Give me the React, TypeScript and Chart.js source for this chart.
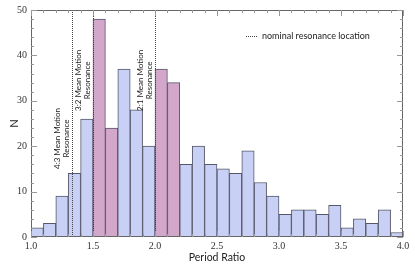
import React, { useEffect, useRef } from "react";
import { Chart, registerables } from "chart.js";

Chart.register(...registerables);

const binStarts = [1.0, 1.1, 1.2, 1.3, 1.4, 1.5, 1.6, 1.7, 1.8, 1.9, 2.0, 2.1, 2.2, 2.3, 2.4, 2.5, 2.6, 2.7, 2.8, 2.9, 3.0, 3.1, 3.2, 3.3, 3.4, 3.5, 3.6, 3.7, 3.8, 3.9];
const counts = [2, 3, 9, 14, 26, 48, 24, 37, 28, 20, 37, 34, 16, 20, 16, 15, 14, 19, 12, 9, 5, 6, 6, 5, 7, 2, 4, 3, 6, 1];
const highlightedBins = [1.5, 1.6, 2.0, 2.1];
const resonances = [1.3333, 1.5, 2.0];
const resonanceLine1 = ["4:3 Mean Motion", "3:2 Mean Motion", "2:1 Mean Motion"];
const resonanceLine2 = ["Resonance", "Resonance", "Resonance"];
const resonanceLabelY = [21.7, 34.5, 34.5]; // label centre in data units (N)
const legendText = "nominal resonance location";
const BIN_WIDTH = 0.1;

const BLUE = "#c9d0f6";
const PINK = "#d3a7c9";
const EDGE = "#55586a";

const framePlugin = {
  id: "frameAndNotes",
  afterDatasetsDraw(chart: any) {
    const { ctx, chartArea, scales } = chart;
    const xs = scales.x;
    const ys = scales.y;
    const { left, right, top, bottom } = chartArea;
    ctx.save();
    // resonance dotted lines
    ctx.strokeStyle = "#444";
    ctx.lineWidth = 1;
    ctx.setLineDash([1, 1]);
    resonances.forEach((r) => {
      const px = Math.round(xs.getPixelForValue(r)) + 0.5;
      ctx.beginPath();
      ctx.moveTo(px, top);
      ctx.lineTo(px, bottom);
      ctx.stroke();
    });
    // legend sample
    const ly = top + 26.5;
    ctx.beginPath();
    ctx.moveTo(246, ly);
    ctx.lineTo(258, ly);
    ctx.stroke();
    ctx.setLineDash([]);
    ctx.fillStyle = "#222";
    ctx.font = "9px Lato";
    ctx.textBaseline = "middle";
    ctx.textAlign = "left";
    ctx.fillText(legendText, 262, ly);

    // rotated annotations
    ctx.font = "8px Lato";
    resonances.forEach((r, i) => {
      const px = xs.getPixelForValue(r);
      const py = ys.getPixelForValue(resonanceLabelY[i]);
      ctx.save();
      ctx.translate(px, py);
      ctx.rotate(-Math.PI / 2);
      ctx.textAlign = "center";
      ctx.textBaseline = "middle";
      ctx.fillText(resonanceLine1[i], 0, -15);
      ctx.fillText(resonanceLine2[i], 0, -6);
      ctx.restore();
    });

    // frame
    ctx.strokeStyle = "#666";
    ctx.lineWidth = 1;
    ctx.strokeRect(left + 0.5, top + 0.5, right - left - 1, bottom - top - 1);
    // ticks
    ctx.strokeStyle = "#999";
    ctx.beginPath();
    for (let k = 0; k <= 30; k++) {
      const v = 1 + k * 0.1;
      const major = k % 5 === 0;
      const len = major ? 6 : 3;
      const px = Math.round(xs.getPixelForValue(v)) + 0.5;
      ctx.moveTo(px, bottom);
      ctx.lineTo(px, bottom - len);
      ctx.moveTo(px, top);
      ctx.lineTo(px, top + len);
    }
    for (let k = 0; k <= 25; k++) {
      const v = k * 2;
      const major = v % 10 === 0;
      const len = major ? 6 : 3;
      const py = Math.round(ys.getPixelForValue(v)) + 0.5;
      ctx.moveTo(left, py);
      ctx.lineTo(left + len, py);
      ctx.moveTo(right, py);
      ctx.lineTo(right - len, py);
    }
    ctx.stroke();
    ctx.restore();
  },
};

export default function App() {
  const ref = useRef<HTMLCanvasElement>(null);
  useEffect(() => {
    document.body.style.margin = "0";
    const canvas = ref.current!;
    const chart = new Chart(canvas, {
      type: "bar",
      data: {
        datasets: [
          {
            data: binStarts.map((b, i) => ({ x: b + BIN_WIDTH / 2, y: counts[i] })),
            backgroundColor: binStarts.map((b) => (highlightedBins.includes(b) ? PINK : BLUE)),
            borderColor: EDGE,
            borderWidth: 1,
            borderSkipped: false,
            barPercentage: 1,
            categoryPercentage: 1,
          },
        ],
      },
      options: {
        animation: false,
        responsive: false,
        maintainAspectRatio: false,
        layout: { padding: { top: 7, right: 12, left: 0, bottom: 0 } },
        plugins: { legend: { display: false }, tooltip: { enabled: false } },
        scales: {
          x: {
            type: "linear",
            min: 1,
            max: 4,
            offset: false,
            grid: { display: false, drawTicks: false },
            border: { display: false },
            ticks: {
              stepSize: 0.5,
              padding: 3,
              color: "#333",
              font: { family: "Liberation Serif", size: 10 },
              callback: (v: any) => Number(v).toFixed(1),
              maxRotation: 0,
            },
            title: {
              display: true,
              text: "Period Ratio",
              color: "#222",
              font: { family: "Lato", size: 10.5 },
              padding: { top: 2, bottom: 4 },
            },
            afterFit: (s: any) => {
              s.height = 31;
            },
          },
          y: {
            min: 0,
            max: 50,
            grid: { display: false, drawTicks: false },
            border: { display: false },
            ticks: {
              stepSize: 10,
              padding: 4,
              color: "#333",
              font: { family: "Liberation Serif", size: 10 },
            },
            title: {
              display: true,
              text: "N",
              color: "#222",
              font: { family: "Lato", size: 11 },
              padding: { top: 8, bottom: 0 },
            },
            afterFit: (s: any) => {
              s.width = 31;
            },
          },
        },
      },
      plugins: [framePlugin],
    } as any);
    return () => chart.destroy();
  }, []);
  return (
    <div style={{ width: 415, height: 268 }}>
      <canvas ref={ref} width={415} height={268} style={{ display: "block" }} />
    </div>
  );
}
